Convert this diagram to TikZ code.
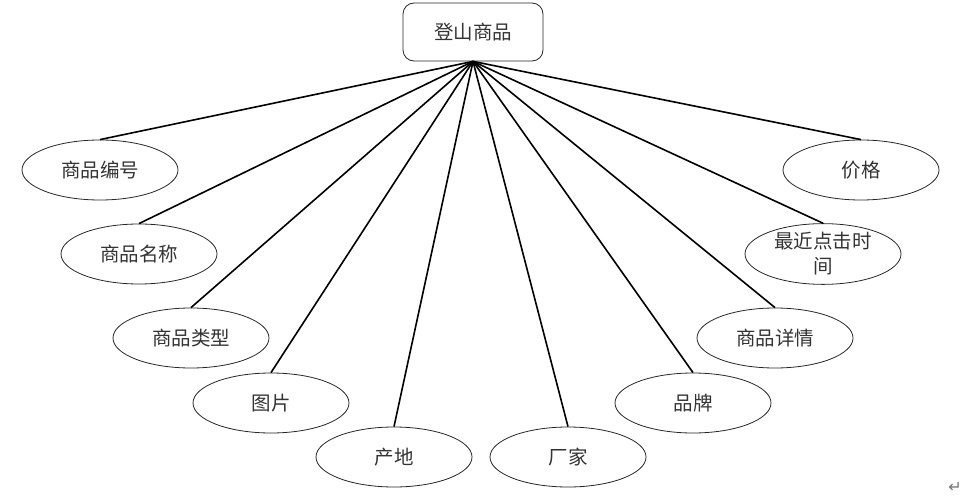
\documentclass[tikz,border=0pt]{standalone}
\usepackage{fontspec}
\newfontfamily\cjk{Noto Sans CJK SC}
\newfontfamily\symfont{DejaVu Sans}
\usetikzlibrary{shapes.geometric}
\tikzset{
  attr/.style={draw=black!85, line width=0.8pt, ellipse, minimum width=156pt, minimum height=60pt, inner sep=0pt, font=\cjk\fontsize{19.5}{25}\selectfont, text=black!80, align=center},
  entity/.style={draw=black!85, line width=0.8pt, rounded corners=11pt, minimum width=140pt, minimum height=58pt, inner sep=0pt, font=\cjk\fontsize{19.5}{25}\selectfont, text=black!80},
  link/.style={line width=1.6pt, black}
}
\begin{document}
\begin{tikzpicture}[x=1pt,y=-1pt]
\useasboundingbox (0,0) rectangle (972,503);
\node[entity] (top) at (473,32) {登山商品};
\node[attr] (a1) at (100,170) {商品编号};
\node[attr] (a2) at (139,254) {商品名称};
\node[attr] (a3) at (191,338) {商品类型};
\node[attr] (a4) at (271,403) {图片};
\node[attr] (a5) at (394,457) {产地};
\node[attr] (a6) at (568,457) {厂家};
\node[attr] (a7) at (693,403) {品牌};
\node[attr] (a8) at (775,338) {商品详情};
\node[attr] (a9) at (823,254) {最近点击时\\间};
\node[attr] (a10) at (861,170) {价格};
\foreach \i in {1,...,10} \draw[link] (top.south) -- (a\i.north);
\node[font=\symfont\fontsize{16}{16}\selectfont, text=black!55] (pm) at (955,487) {↵};
\end{tikzpicture}
\end{document}
